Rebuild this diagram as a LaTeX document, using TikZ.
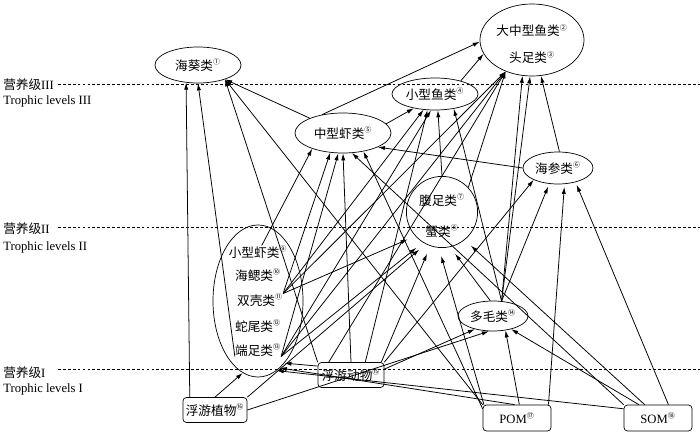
\documentclass[tikz,border=0pt]{standalone}
\usepackage{fontspec}
\setmainfont{Liberation Serif}
\newfontfamily\cjk{Noto Sans CJK SC}
\usetikzlibrary{shapes.geometric,arrows.meta}
\newcommand{\cnum}[1]{\textsuperscript{\cjk\fontsize{5}{5}\selectfont #1}}
\tikzset{
	oval/.style={draw,ellipse,line width=0.5pt,inner sep=0pt,font=\cjk\fontsize{9}{11}\selectfont},
	box/.style={draw,rectangle,rounded corners=2.5pt,line width=0.5pt,inner sep=0pt,font=\cjk\fontsize{9}{11}\selectfont},
	item/.style={inner sep=0pt,font=\cjk\fontsize{9}{11}\selectfont},
	eat/.style={-{Latex[length=5pt,width=3pt]},line width=0.55pt},
	gap/.style={shorten >=#1},
	level/.style={line width=0.5pt,dash pattern=on 2pt off 1.5pt},
	lab/.style={anchor=west,inner sep=0pt,font=\fontsize{9}{11}\selectfont}
}

\begin{document}
\begin{tikzpicture}[x=0.025cm,y=-0.025cm]
			%%%%% START %%%%%
			\useasboundingbox (0,0) rectangle (700,440);
			
			\node[lab] (lv3) at (3,85) {{\cjk 营养级}III};
			\node[lab] (tl3) at (3,101) {Trophic levels III};
			\node[lab] (lv2) at (3,229) {{\cjk 营养级}II};
			\node[lab] (tl2) at (3,247) {Trophic levels II};
			\node[lab] (lv1) at (3,373) {{\cjk 营养级}I};
			\node[lab] (tl1) at (3,389) {Trophic levels I};
			
			\draw[level] (58,84) -- (700,84);
			\draw[level] (58,227) -- (700,227);
			\draw[level] (58,369) -- (700,369);
			
			\node[oval,minimum width=2.6cm,minimum height=1.8cm,align=center] (dy) at (532,40) {\rule{0pt}{14pt}大中型鱼类\cnum{②}\\[8pt]头足类\cnum{③}};
			\node[oval,minimum width=2.15cm,minimum height=0.9cm] (hk) at (198,65) {海葵类\cnum{①}};
			\node[oval,minimum width=2.15cm,minimum height=0.8cm] (xy) at (435,94) {小型鱼类\cnum{④}};
			\node[oval,minimum width=2.4cm,minimum height=1cm] (zx) at (343,133) {中型虾类\cnum{⑤}};
			\node[oval,minimum width=1.75cm,minimum height=0.8cm] (hs) at (558,168) {海参类\cnum{⑥}};
			\node[oval,minimum width=1.78cm,minimum height=1.78cm,align=center] (fz) at (442,212) {\rule{0pt}{13pt}腹足类\cnum{⑦}\\[11pt]蟹类\cnum{⑧}};
			\node[oval,minimum width=1.75cm,minimum height=0.75cm] (dm) at (493,316) {多毛类\cnum{⑭}};
			
			\node[oval,minimum width=2.25cm,minimum height=3.8cm] (bt) at (258,301) {};
			\node[item] (xxx) at (258,252) {小型虾类\cnum{⑨}};
			\node[item] (hx) at (258,275) {海鳃类\cnum{⑩}};
			\node[item] (sk) at (260,300) {双壳类\cnum{⑪}};
			\node[item] (sw) at (258,326) {蛇尾类\cnum{⑫}};
			\node[item] (dz) at (258,350) {端足类\cnum{⑬}};
			
			\node[box,minimum width=1.65cm,minimum height=0.625cm] (fd) at (351,375) {浮游动物\cnum{⑮}};
			\node[box,minimum width=1.6cm,minimum height=0.625cm] (fw) at (215,410) {浮游植物\cnum{⑯}};
			\node[box,minimum width=1.7cm,minimum height=0.65cm] (pom) at (517,418) {{\rmfamily POM}\cnum{⑰}};
			\node[box,minimum width=1.7cm,minimum height=0.65cm] (som) at (658,418) {{\rmfamily SOM}\cnum{⑱}};
			
			% into hk
			\draw[eat] (fw.153) -- (hk.236);
			\draw[eat] (dz.south west) -- (hk.south);
			\draw[eat] (zx.156) -- (hk.-28);
			\draw[eat] (fd.north west) -- (hk.-28);
			\draw[eat] (pom.north west) -- (hk.-28);
			
			% into dy
			\draw[eat] (zx.139) -- (dy.182);
			\draw[eat] (xy.27) -- (dy.196);
			\draw[eat] (sk.north east) -- (dy.230);
			\draw[eat] (dz.south east) -- (dy.230);
			\draw[eat] (fz.43) -- (dy.230);
			\draw[eat] (fd.150) -- (dy.230);
			\draw[eat] (dm.60) -- (dy.255);
			\draw[eat] (dm.60) -- (dy.267);
			\draw[eat] (hs.85) -- (dy.284);
			
			% into xy
			\draw[eat] (zx.12) -- (xy.214);
			\draw[eat] (sk.north east) -- (xy.234);
			\draw[eat] (fd.42) -- (xy.245);
			\draw[eat] (dz.south east) -- (xy.256);
			\draw[eat] (fz.north) -- (xy.280);
			\draw[eat] (dm.60) -- (xy.322);
			
			% into zx
			\draw[eat] (xxx.60) -- (zx.207);
			\draw[eat] (sk.north east) -- (zx.237);
			\draw[eat] (dz.south east) -- (zx.257);
			\draw[eat] (fd.north) -- (zx.270);
			\draw[eat] (som.north west) -- (zx.294);
			\draw[eat] (pom.165) -- (zx.318);
			\draw[eat] (hs.180) -- (zx.338);
			
			% into hs
			\draw[eat] (fd.north east) -- (hs.206);
			\draw[eat,gap=2pt] (dm.60) -- (hs.241);
			\draw[eat,gap=2pt] (pom.23) -- (hs.292);
			\draw[eat,gap=2pt] (som.52) -- (hs.321);
			
			% into fz
			\draw[eat,gap=6pt] (sk.north east) -- (fz.222);
			\draw[eat,gap=6pt] (dz.south east) -- (fz.238);
			\draw[eat,gap=6pt] (fw.north east) -- (fz.243);
			\draw[eat,gap=6pt] (fd.23) -- (fz.251);
			\draw[eat,gap=6pt] (pom.158) -- (fz.265);
			\draw[eat,gap=6pt] (dm.100) -- (fz.283);
			\draw[eat,gap=6pt] (som.135) -- (fz.309);
			
			% into dm
			\draw[eat] (fd.10) -- (dm.216);
			\draw[eat] (fw.east) -- (dm.255);
			\draw[eat] (pom.80) -- (dm.311);
			\draw[eat] (som.145) -- (dm.324);
			
			% into bt
			\draw[eat] (fw.north) -- (bt.258);
			\draw[eat] (fd.165) -- (bt.293);
			\draw[eat] (pom.100) -- (bt.288);
			\draw[eat] (som.165) -- (bt.285);
			%%%%% END %%%%%
\end{tikzpicture}
\end{document}
